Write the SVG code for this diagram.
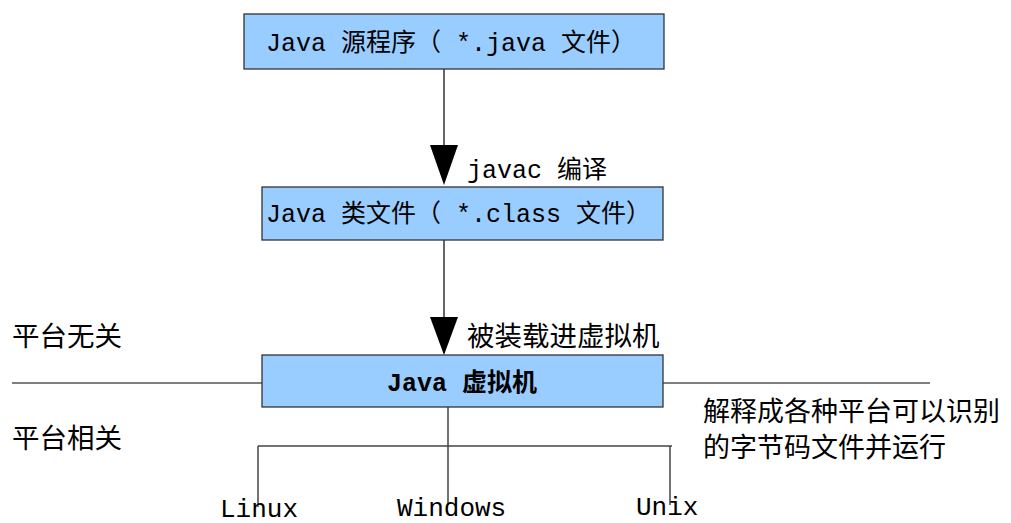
<svg xmlns="http://www.w3.org/2000/svg" width="1011" height="523" viewBox="0 0 1011 523">
<defs>
<style>
.box{fill:#99ccff;stroke:#333333;stroke-width:1.3}
.mono{font-family:"Liberation Mono","Noto Sans CJK SC",monospace;font-size:25px;fill:#000}
.os{font-family:"Liberation Mono",monospace;font-size:26px;fill:#000}
.cjk{font-family:"Noto Sans CJK SC","Liberation Sans",sans-serif;font-size:27.5px;fill:#000}
.note{font-family:"Noto Sans CJK SC","Liberation Sans",sans-serif;font-size:27px;fill:#000}
.ln{stroke:#000;stroke-width:1.2;fill:none}
.tree{stroke:#444;stroke-width:1.5;fill:none}
.head{fill:#000}
</style>
</defs>
<g id="connectors">
<line class="ln" x1="444" y1="69" x2="444" y2="146"/>
<path class="head" d="M430,145 L458,145 L444,185 Z"/>
<line class="ln" x1="444" y1="240" x2="444" y2="318"/>
<path class="head" d="M430,317 L458,317 L444,355 Z"/>
<line class="ln" x1="12" y1="383" x2="262" y2="383"/>
<line class="ln" x1="663" y1="383" x2="930" y2="383"/>
<line class="tree" x1="448" y1="407" x2="448" y2="503"/>
<line class="tree" x1="258" y1="446" x2="672" y2="446"/>
<line class="tree" x1="258" y1="446" x2="258" y2="507"/>
<line class="tree" x1="670" y1="446" x2="670" y2="505"/>
</g>
<g id="node-source">
<rect class="box" x="244" y="14" width="420" height="55"/>
<text class="mono" x="266" y="51">Java 源程序（ *.java 文件）</text>
</g>
<g id="node-class">
<rect class="box" x="262" y="187" width="401" height="53"/>
<text class="mono" x="266" y="222">Java 类文件（ *.class 文件）</text>
</g>
<g id="node-jvm">
<rect class="box" x="262" y="355" width="401" height="52"/>
<text class="mono" x="462" y="391" text-anchor="middle" font-weight="bold">Java 虚拟机</text>
</g>
<g id="labels">
<text class="mono" x="467" y="178">javac 编译</text>
<text class="cjk" x="467" y="346">被装载进虚拟机</text>
<text class="cjk" x="12" y="346">平台无关</text>
<text class="cjk" x="12" y="448">平台相关</text>
<text class="note" x="703" y="421">解释成各种平台可以识别</text>
<text class="note" x="703" y="457">的字节码文件并运行</text>
<text class="os" x="220" y="517">Linux</text>
<text class="os" x="397" y="516">Windows</text>
<text class="os" x="636" y="515">Unix</text>
</g>
</svg>
